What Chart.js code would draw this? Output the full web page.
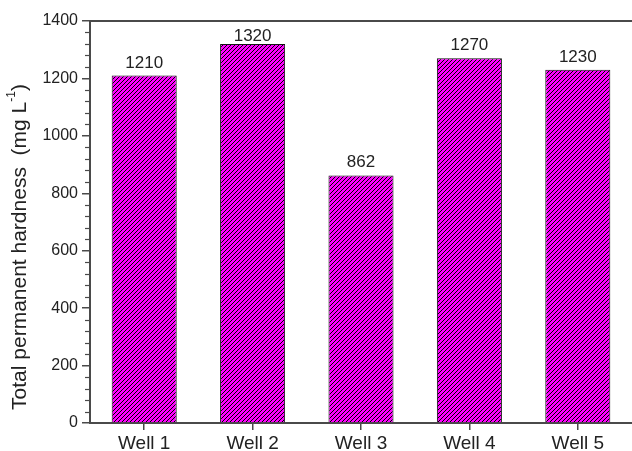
<!DOCTYPE html>
<html>
<head>
<meta charset="utf-8">
<script src="https://cdn.jsdelivr.net/npm/chart.js@4/dist/chart.umd.min.js"></script>
<style>
  html, body { margin: 0; padding: 0; background: #fff; }
  #wrap { width: 632px; height: 451px; position: relative; }
</style>
</head>
<body>
<div id="wrap"><canvas id="chart"></canvas></div>
<script>
// hardness per well, mg/L
const wells = ["Well 1", "Well 2", "Well 3", "Well 4", "Well 5"];
const hardness = [1210, 1320, 862, 1270, 1230];
const yTicks = [0, 200, 400, 600, 800, 1000, 1200, 1400];

const FONT = "'Liberation Sans', Arial, Helvetica, sans-serif";
const AXIS = "#4a4a4a";

// magenta fill with black "/" hatching
function hatch() {
  const s = 4;
  const c = document.createElement("canvas");
  c.width = s; c.height = s;
  const g = c.getContext("2d");
  g.fillStyle = "#ff00ff";
  g.fillRect(0, 0, s, s);
  g.strokeStyle = "#000";
  g.lineWidth = 1.0;
  for (const o of [-s, 0, s]) {
    g.beginPath();
    g.moveTo(o - 1, s + 1);
    g.lineTo(o + s + 1, -1);
    g.stroke();
  }
  return g.createPattern(c, "repeat");
}

const frame = {
  id: "frame",
  afterDraw(chart) {
    const { ctx, chartArea: a, scales } = chart;
    const y = scales.y;
    ctx.save();
    // top border
    ctx.strokeStyle = AXIS;
    ctx.lineWidth = 2;
    ctx.beginPath();
    ctx.moveTo(a.left - 1, a.top);
    ctx.lineTo(a.right + 2, a.top);
    ctx.stroke();
    // minor ticks on the y axis
    ctx.lineWidth = 1.2;
    for (let v = 40; v < 1400; v += 40) {
      if (v % 200 === 0) continue;
      const py = Math.round(y.getPixelForValue(v)) + 0.5;
      ctx.beginPath();
      ctx.moveTo(a.left - 5, py);
      ctx.lineTo(a.left, py);
      ctx.stroke();
    }
    // value labels, kept below the top border
    ctx.fillStyle = "#222";
    ctx.font = "17px " + FONT;
    ctx.textAlign = "center";
    ctx.textBaseline = "alphabetic";
    chart.getDatasetMeta(0).data.forEach((bar, i) => {
      const by = Math.max(bar.y - 8, a.top + 20);
      ctx.fillText(String(hardness[i]), bar.x, by);
    });
    // y axis title with superscript
    ctx.translate(20, 247);
    ctx.rotate(-Math.PI / 2);
    const main = "Total permanent hardness  (mg L";
    const sup = "-1";
    ctx.font = "21px " + FONT;
    const w1 = ctx.measureText(main).width;
    const w3 = ctx.measureText(")").width;
    ctx.font = "12px " + FONT;
    const w2 = ctx.measureText(sup).width;
    const x0 = -(w1 + w2 + w3) / 2;
    ctx.textAlign = "left";
    ctx.textBaseline = "middle";
    ctx.font = "21px " + FONT;
    ctx.fillText(main, x0, 0);
    ctx.font = "12px " + FONT;
    ctx.fillText(sup, x0 + w1, -8);
    ctx.font = "21px " + FONT;
    ctx.fillText(")", x0 + w1 + w2, 0);
    ctx.restore();
  }
};

new Chart(document.getElementById("chart"), {
  type: "bar",
  data: {
    labels: wells,
    datasets: [{
      data: hardness,
      backgroundColor: hatch(),
      borderColor: "#111",
      borderWidth: 1,
      barPercentage: 0.6,
      categoryPercentage: 1
    }]
  },
  options: {
    responsive: true,
    maintainAspectRatio: false,
    animation: false,
    devicePixelRatio: 1,
    layout: { padding: { top: 21, right: -2, left: 0, bottom: 0 } },
    plugins: { legend: { display: false }, tooltip: { enabled: false } },
    scales: {
      x: {
        offset: true,
        grid: { offset: false, drawOnChartArea: false, drawTicks: true, tickLength: 7, color: AXIS, lineWidth: 1.5 },
        border: { display: true, color: AXIS, width: 2 },
        ticks: { color: "#222", font: { family: FONT, size: 19 }, padding: 2, maxRotation: 0 },
        afterFit(s) { s.height = 28; }
      },
      y: {
        min: 0,
        max: 1400,
        afterBuildTicks(s) { s.ticks = yTicks.map(v => ({ value: v })); },
        grid: { drawOnChartArea: false, drawTicks: true, tickLength: 8, color: AXIS, lineWidth: 1.5 },
        border: { display: true, color: AXIS, width: 2 },
        ticks: { color: "#222", font: { family: FONT, size: 16 }, padding: 4, callback: v => String(v) },
        afterFit(s) { s.width = 90; }
      }
    }
  },
  plugins: [frame]
});
</script>
</body>
</html>
